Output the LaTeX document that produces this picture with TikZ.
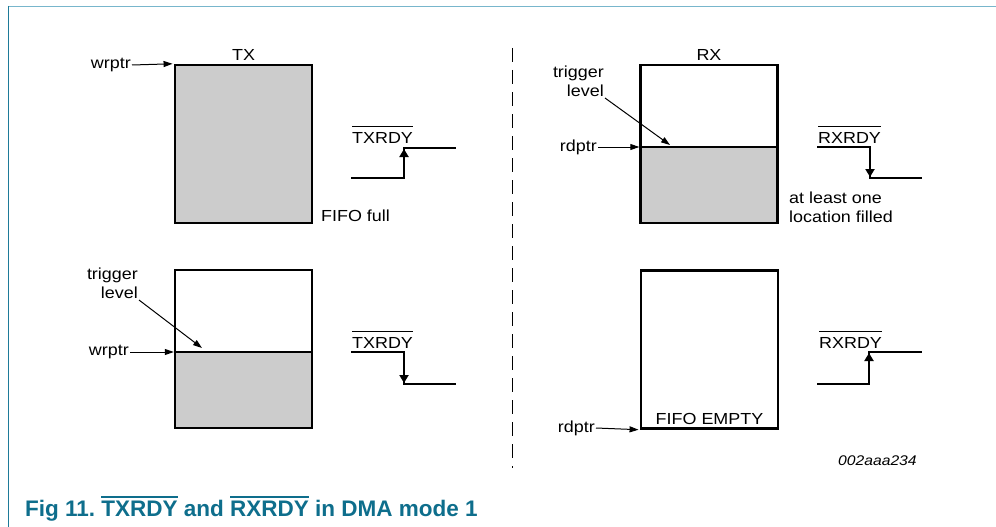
\documentclass[tikz,border=0pt]{standalone}
\usepackage{fontspec}
\setmainfont{Liberation Sans}
\newfontfamily\figfont[FakeStretch=1.12]{Liberation Sans}
\usetikzlibrary{arrows.meta}

\definecolor{capteal}{RGB}{14,110,140}
\definecolor{framelight}{RGB}{120,182,204}
\definecolor{framedark}{RGB}{30,122,152}
\definecolor{fifogray}{RGB}{204,204,204}

% overlined signal name: rule, gap, text
\newcommand{\barsig}[3]{\leavevmode\vbox{\hrule height #1\kern #2\hbox{#3}}}

\tikzset{
  fifobox/.style={draw,line width=2.5pt,minimum width=137pt,minimum height=158pt,inner sep=0pt},
  lbl/.style={inner sep=1pt,font=\figfont\fontsize{16}{19.5}\selectfont},
  ptr/.style={-{Triangle[length=9pt,width=6pt]},line width=1pt,shorten >=1.2pt},
  sig/.style={line width=2.5pt},
  sigup/.style={line width=2.5pt,-{Triangle[length=8pt,width=9pt]}},
}

\begin{document}
\begin{tikzpicture}[x=1pt,y=-1pt]
  \useasboundingbox (0,0) rectangle (996,527);

  % frame
  \draw[framelight,line width=1.5pt] (8,6.5) -- (996,6.5);
  \draw[framedark,line width=1.5pt] (8.5,6) -- (8.5,527);

  % separator
  \draw[line width=1pt,dash pattern=on 14pt off 8pt] (512,48) -- (512,468);

  %%%%%%%%%% TX side %%%%%%%%%%
  \coordinate (txlvl) at (175,352);
  \fill[fifogray] (txlvl) rectangle (312,428);

  \node[fifobox,fill=fifogray] (txfull) at (243.5,144) {};
  \node[fifobox] (txtrig) at (243.5,349) {};
  \draw[line width=2.5pt] (txlvl) -- (txlvl -| txtrig.east);

  \node[lbl,anchor=base] (txname) at (243.5,61) {TX};
  \node[lbl,anchor=base west] (txfulltxt) at (320,221) {FIFO full};

  \node[lbl,anchor=east] (wrtop) at (132,65) {wrptr};
  \draw[ptr] (wrtop.east) -- (txfull.north west);

  \node[lbl,anchor=east] (wrbot) at (130,352) {wrptr};
  \draw[ptr] (wrbot.east) -- (txlvl);

  \node[lbl,anchor=south east,align=right] (trigtx) at (139,300) {trigger\\level};
  \coordinate (trigtxtip) at (202,348);
  \draw[ptr,shorten >=0pt] (trigtx.south east) -- (trigtxtip);

  % TXRDY, FIFO full
  \node[lbl,anchor=base west,inner sep=0pt] (txrdytop) at (352,143) {\barsig{1pt}{5pt}{TXRDY}};
  \draw[sig] (351,178) -- (404,178) -- (404,148) -- (456,148);
  \draw[sigup] (404,178) -- (404,149);

  % TXRDY, trigger level
  \node[lbl,anchor=base west,inner sep=0pt] (txrdybot) at (352,348) {\barsig{1pt}{5pt}{TXRDY}};
  \draw[sig] (351,352) -- (404,352) -- (404,384) -- (456,384);
  \draw[sigup] (404,352) -- (404,383);

  %%%%%%%%%% RX side %%%%%%%%%%
  \coordinate (rxlvl) at (640.5,147);
  \fill[fifogray] (rxlvl) rectangle (777.5,223);

  \node[fifobox] (rxone) at (709,144) {};
  \node[fifobox] (rxempty) at (709.5,349.5) {};
  \draw[line width=2.5pt] (rxlvl) -- (rxlvl -| rxone.east);

  \node[lbl,anchor=base] (rxname) at (709,61) {RX};
  \node[lbl,anchor=base] (rxemptytxt) at (709.5,424) {FIFO EMPTY};
  \node[lbl,anchor=south west,align=left,inner sep=0pt] (rxonetxt) at (789,223) {at least one\\location filled};

  \node[lbl,anchor=east] (rdtop) at (598,147) {rdptr};
  \draw[ptr] (rdtop.east) -- (rxlvl);

  \node[lbl,anchor=east] (rdbot) at (596,428) {rdptr};
  \draw[ptr] (rdbot.east) -- (rxempty.south west);

  \node[lbl,anchor=south east,align=right] (trigrx) at (605,98) {trigger\\level};
  \coordinate (trigrxtip) at (670,145);
  \draw[ptr,shorten >=0pt] (trigrx.south east) -- (trigrxtip);

  % RXRDY, one location filled
  \node[lbl,anchor=base west,inner sep=0pt] (rxrdytop) at (818,143) {\barsig{1pt}{5pt}{RXRDY}};
  \draw[sig] (817,147) -- (870,147) -- (870,178) -- (922,178);
  \draw[sigup] (870,147) -- (870,177);

  % RXRDY, FIFO empty
  \node[lbl,anchor=base west,inner sep=0pt] (rxrdybot) at (819,348) {\barsig{1pt}{5pt}{RXRDY}};
  \draw[sig] (817,384) -- (869,384) -- (869,352) -- (922,352);
  \draw[sigup] (869,384) -- (869,353);

  \node[lbl,anchor=base west,inner sep=0pt,font=\figfont\itshape\fontsize{14}{16}\selectfont] (figid) at (838,465) {002aaa234};

  % caption
  \node[anchor=base west,inner sep=0pt,text=capteal,font=\bfseries\fontsize{22.5}{26}\selectfont] (caption) at (25,516)
    {Fig 11.\ \barsig{1.5pt}{3pt}{TXRDY} and \barsig{1.5pt}{3pt}{RXRDY} in DMA mode 1};
\end{tikzpicture}
\end{document}
